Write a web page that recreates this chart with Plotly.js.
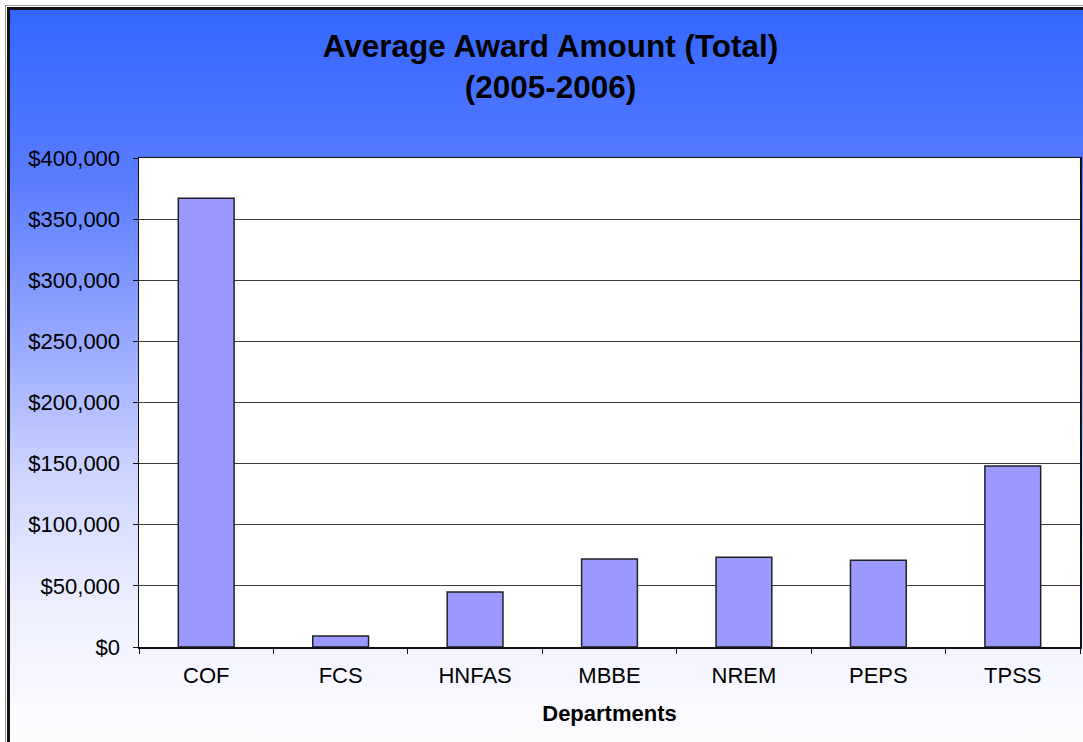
<!DOCTYPE html>
<html>
<head>
<meta charset="utf-8">
<script src="https://cdn.plot.ly/plotly-3.0.1.min.js"></script>
<style>
  html, body { margin: 0; padding: 0; width: 1083px; height: 742px; overflow: hidden; background: #ffffff; }
  #frame {
    position: absolute; left: 5px; top: 5px; width: 1100px; height: 760px;
    border-left: 1px solid #9a9a9a; border-top: 1px solid #9a9a9a;
  }
  #inner {
    position: absolute; left: 1px; top: 1px; right: 0; bottom: 0;
    border-left: 3px solid #111; border-top: 3px solid #111;
    background: linear-gradient(to bottom, #3366ff 0px, #5a7cff 170px, #97a8ff 330px, #cfd6ff 470px, #eceeff 590px, #fafaff 700px, #ffffff 760px);
  }
  #chart { position: absolute; left: 0; top: 0; width: 1083px; height: 742px; }
</style>
</head>
<body>
<div id="frame"><div id="inner"></div></div>
<div id="chart"></div>
<script>
const departments = ["COF", "FCS", "HNFAS", "MBBE", "NREM", "PEPS", "TPSS"];
const averageAward = [367000, 9000, 45000, 72000, 73500, 71000, 148000];
const yTickValues = [0, 50000, 100000, 150000, 200000, 250000, 300000, 350000, 400000];
const yTickLabels = ["$0", "$50,000", "$100,000", "$150,000", "$200,000", "$250,000", "$300,000", "$350,000", "$400,000"];

const trace = {
  type: "bar",
  x: departments,
  y: averageAward,
  marker: { color: "#9999ff", line: { color: "#222222", width: 1.5 } },
  hoverinfo: "x+y"
};

const layout = {
  width: 1083, height: 742,
  paper_bgcolor: "rgba(0,0,0,0)",
  plot_bgcolor: "#ffffff",
  margin: { l: 139, r: 3, t: 158, b: 95, pad: 0 },
  font: { family: "Liberation Sans, Arial, sans-serif", color: "#000000", size: 22 },
  title: {
    text: "<b>Average Award Amount (Total)<br>(2005-2006)</b>",
    font: { family: "Liberation Sans, Arial, sans-serif", size: 31.5, color: "#000000" },
    xref: "container", x: 0.5083, xanchor: "center",
    yref: "container", y: 0.923, yanchor: "top"
  },
  bargap: 0.585,
  showlegend: false,
  xaxis: {
    type: "category",
    showline: true, linecolor: "#111111", linewidth: 1.5, mirror: true,
    ticks: "outside", tickson: "boundaries", ticklen: 5, tickcolor: "#111111",
    ticklabelstandoff: 8,
    tickfont: { size: 22 },
    showgrid: false, zeroline: false,
    title: { text: "<b>Departments</b>", font: { size: 22 }, standoff: 18 }
  },
  yaxis: {
    range: [0, 400000],
    tickvals: yTickValues, ticktext: yTickLabels,
    showline: true, linecolor: "#111111", linewidth: 1.5, mirror: true,
    ticks: "outside", ticklen: 5, tickcolor: "#111111",
    ticklabelstandoff: 8,
    tickfont: { size: 22 },
    showgrid: true, gridcolor: "#3a3a3a", gridwidth: 1.2,
    zeroline: false
  }
};

Plotly.newPlot("chart", [trace], layout, { displayModeBar: false, staticPlot: true });
</script>
</body>
</html>
